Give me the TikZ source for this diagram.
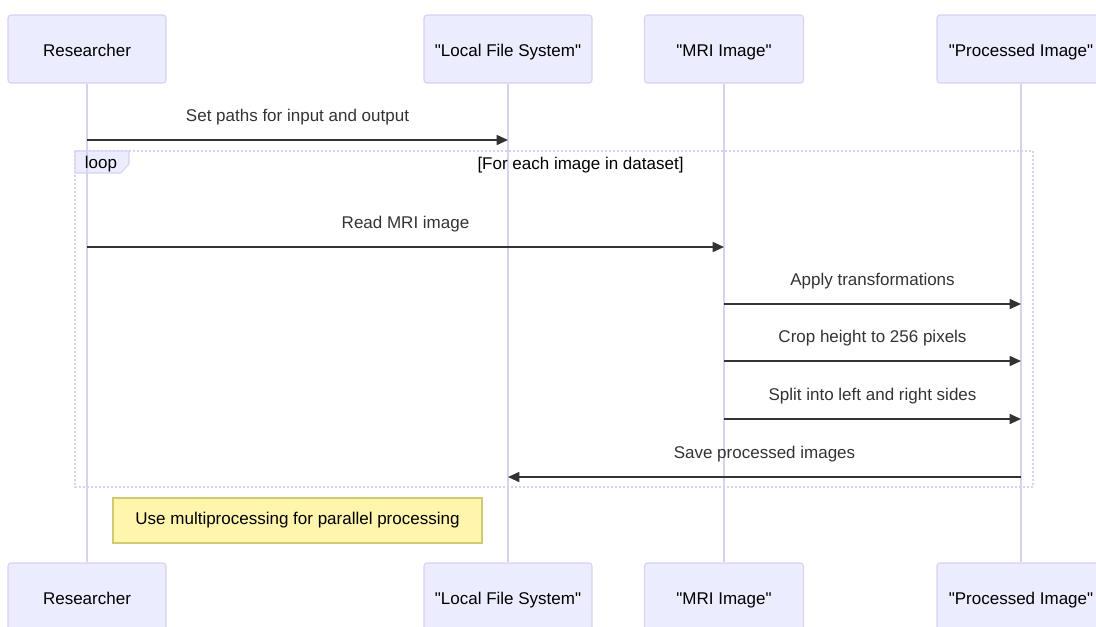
\documentclass[tikz,border=0pt]{standalone}
\usepackage{fontspec}
\setmainfont{Liberation Sans}
\usetikzlibrary{arrows.meta}
\definecolor{actorfill}{HTML}{ECECFF}
\definecolor{actorline}{HTML}{DAD0F2}
\definecolor{msgcol}{HTML}{333333}
\definecolor{notefill}{HTML}{FFF5AD}
\definecolor{noteline}{HTML}{CFCB6E}
\newcommand{\qq}[1]{\textquotedbl#1\textquotedbl}
\begin{document}
\begin{tikzpicture}[x=0.75pt,y=-0.75pt,
  txt/.style={font=\fontsize{12.75}{15}\selectfont, text height=12pt, text depth=1.3pt},
  actorbox/.style={txt, draw=actorline, fill=actorfill, line width=0.8pt,
    rounded corners=2.25pt, minimum height=51pt, inner sep=0pt, text=black},
  lifeline/.style={draw=actorline, line width=1.1pt},
  loopline/.style={draw=actorline, line width=1.3pt, dash pattern=on 1.4pt off 1.6pt},
  looptab/.style={draw=actorline, fill=actorfill, line width=0.8pt},
  msgarrow/.style={draw=msgcol, line width=1.25pt,
    -{Triangle[length=8.5pt,width=7.5pt]}},
  msglabel/.style={txt, text=msgcol, inner sep=0pt},
  plain/.style={txt, text=black, inner sep=0pt},
  notebox/.style={txt, text height=9.2pt, text depth=2.6pt,
    draw=noteline, fill=notefill, line width=0.8pt,
    minimum width=276.75pt, minimum height=33.75pt, inner sep=0pt, text=black}]
\useasboundingbox (0,0) rectangle (1096,626);
\clip (0,0) rectangle (1096,626);

% participants, top and bottom
\node[actorbox, minimum width=118.5pt] (rT) at (87,49)   {Researcher};
\node[actorbox, minimum width=126pt]   (lT) at (508,49)  {\qq{Local File System}};
\node[actorbox, minimum width=119.25pt] (mT) at (724,49) {\qq{MRI Image}};
\node[actorbox, minimum width=126pt]   (pT) at (1021,49) {\qq{Processed Image}};
\node[actorbox, minimum width=118.5pt] (rB) at (87,597)  {Researcher};
\node[actorbox, minimum width=126pt]   (lB) at (508,597) {\qq{Local File System}};
\node[actorbox, minimum width=119.25pt] (mB) at (724,597) {\qq{MRI Image}};
\node[actorbox, minimum width=126pt]   (pB) at (1021,597) {\qq{Processed Image}};

% loop frame
\draw[loopline] (75,151) rectangle (1033,487);
\draw[looptab] (75,151) -- (129,151) -- (129,164) -- (121,173) -- (75,173) -- cycle;

% lifelines
\draw[lifeline] (rT.south) -- (rB.north);
\draw[lifeline] (lT.south) -- (lB.north);
\draw[lifeline] (mT.south) -- (mB.north);
\draw[lifeline] (pT.south) -- (pB.north);

% loop labels
\node[plain] (looplbl) at (101,161.5) {loop};
\node[plain] (loopcond) at (580.5,162.5) {[For each image in dataset]};

% message anchors on the lifelines
\coordinate (r1) at (87,140);   \coordinate (l1) at (508,140);
\coordinate (r2) at (87,247);   \coordinate (m2) at (724,247);
\coordinate (m3) at (724,304);  \coordinate (p3) at (1021,304);
\coordinate (m4) at (724,361);  \coordinate (p4) at (1021,361);
\coordinate (m5) at (724,419);  \coordinate (p5) at (1021,419);
\coordinate (p6) at (1021,477); \coordinate (l6) at (508,477);

% messages
\draw[msgarrow] (r1) -- node[msglabel, yshift=19pt] {Set paths for input and output} (l1);
\draw[msgarrow] (r2) -- node[msglabel, yshift=19pt] {Read MRI image} (m2);
\draw[msgarrow] (m3) -- node[msglabel, yshift=19pt] {Apply transformations} (p3);
\draw[msgarrow] (m4) -- node[msglabel, yshift=19pt] {Crop height to 256 pixels} (p4);
\draw[msgarrow] (m5) -- node[msglabel, yshift=19pt] {Split into left and right sides} (p5);
\draw[msgarrow] (p6) -- node[msglabel, yshift=19pt] {Save processed images} (l6);

% note
\node[notebox] (note) at (297.5,520.5) {Use multiprocessing for parallel processing};
\end{tikzpicture}
\end{document}
